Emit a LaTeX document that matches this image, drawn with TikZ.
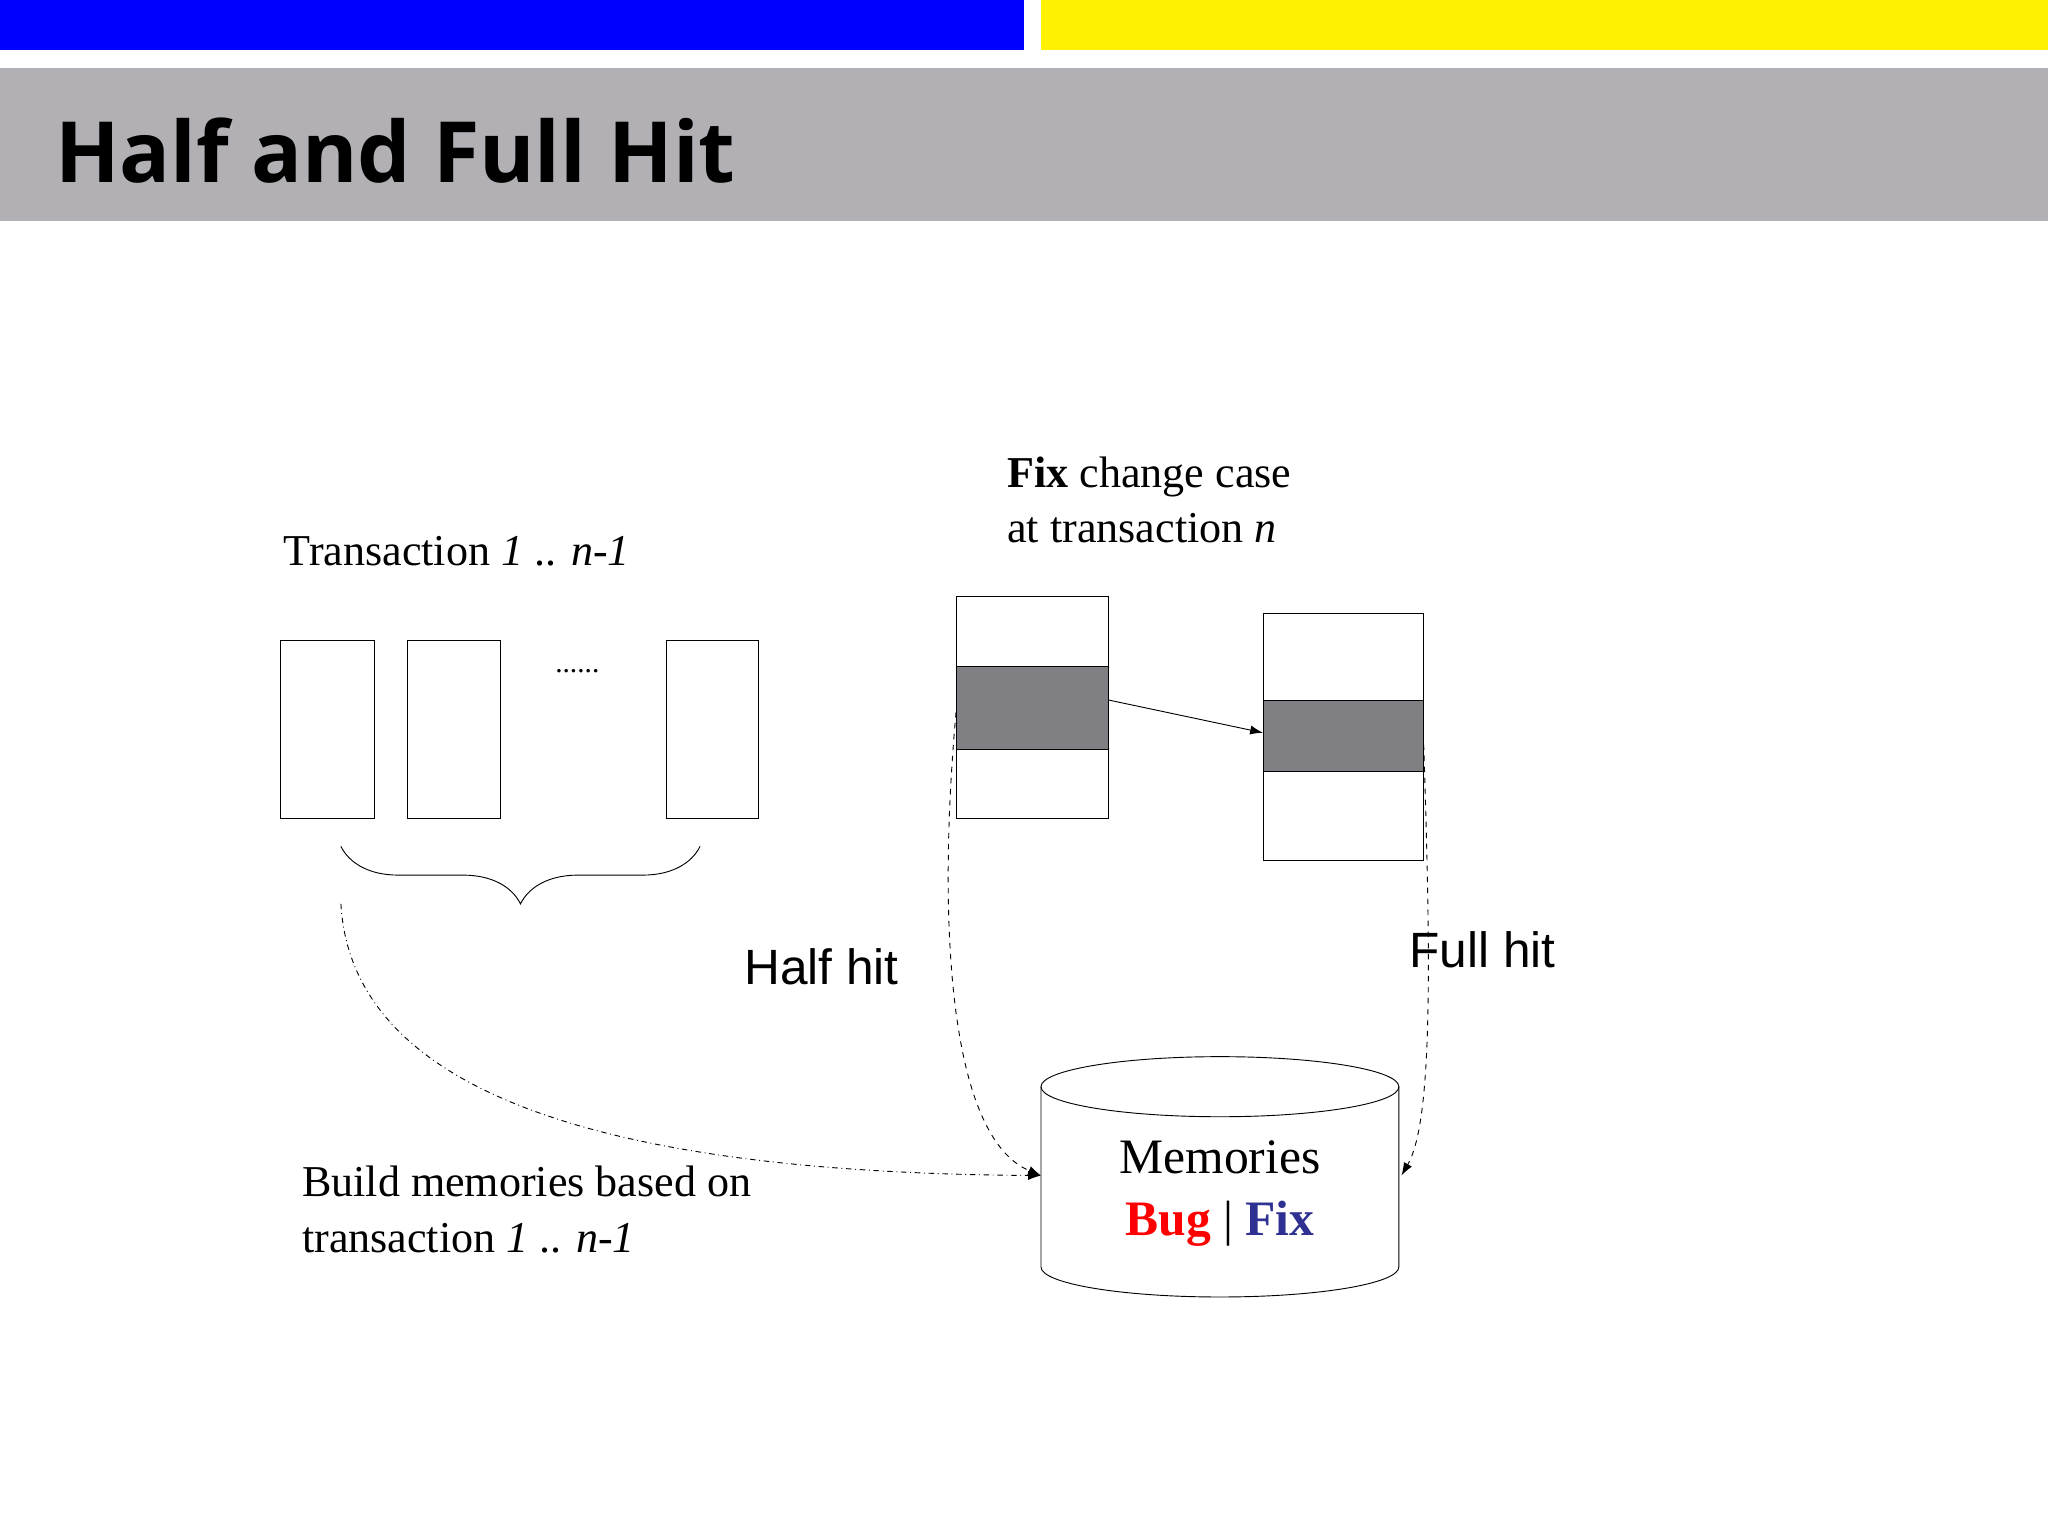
\documentclass[tikz,border=0pt]{standalone}
\usepackage{fontspec}
\setmainfont{Liberation Serif}
\newfontfamily\arialf{Liberation Sans}
\newfontfamily\titlef{Open Sans}
\usetikzlibrary{decorations.pathreplacing,arrows.meta,shapes.geometric}
\definecolor{blk}{RGB}{128,127,131}
\definecolor{band}{RGB}{178,176,180}
\definecolor{fixblue}{RGB}{46,49,146}
\begin{document}
\begin{tikzpicture}[x=0.25mm,y=-0.25mm,
  lbl/.style={font=\fontsize{24}{30}\selectfont,align=left,anchor=west,inner sep=0},
  hit/.style={font=\arialf\fontsize{27}{30}\selectfont,inner sep=0},
  conn/.style={line width=0.5pt,-{Latex[length=7pt,width=5pt]}}]
\useasboundingbox (0,0) rectangle (1568,1176);
\fill[blue] (0,0) rectangle (784,38);
\fill[yellow] (797,0) rectangle (1568,38);
\fill[band] (0,52) rectangle (1568,169);
\node[anchor=base west,inner sep=0,font=\titlef\bfseries\fontsize{46}{56}\selectfont] (title) at (42,140) {Half and Full Hit};
% transactions
\draw[line width=0.5pt] (215,490) rectangle (287,627);
\draw[line width=0.5pt] (312,490) rectangle (383,627);
\draw[line width=0.5pt] (510,490) rectangle (581,627);
\node[font=\fontsize{16}{18}\selectfont] (dots) at (442,514) {......};
\node[lbl] (trans) at (217,422) {Transaction \textit{1} .. \textit{n-1}};
\draw[line width=0.5pt,decorate,decoration={brace,mirror,amplitude=11mm}] (261,648) -- (536,648);
\coordinate (bt) at (261,692);
% fix blocks
\draw[line width=0.5pt] (732,457) rectangle (849,627);
\draw[line width=0.5pt,fill=blk] (732,510) rectangle (849,574);
\draw[line width=0.5pt] (967,470) rectangle (1090,659);
\draw[line width=0.5pt,fill=blk] (967,536) rectangle (1090,591);
\coordinate (a1) at (849,536);
\coordinate (a2) at (967,561);
\draw[conn] (a1) -- (a2);
\node[lbl] (fixlbl) at (771,383) {\textbf{Fix} change case\\at transaction \textit{n}};
% cylinder
\draw[line width=0.5pt,fill=white] (797,832) -- (797,970) arc[start angle=180,end angle=0,x radius=137,y radius=23] -- (1071,832);
\draw[line width=0.5pt] (934,832) ellipse[x radius=137,y radius=23];
\node[font=\fontsize{27}{34}\selectfont,align=center] (mem) at (934,914) {Memories\\\textbf{\textcolor{red}{Bug}} | \textbf{\textcolor{fixblue}{Fix}}};
\coordinate (mL) at (797,900);
\coordinate (mR) at (1073,900);
\coordinate (h1) at (732,545);
\coordinate (f1) at (1090,570);
\draw[conn,dashed] (h1) .. controls (718,700) and (725,870) .. (mL);
\draw[conn,dashed] (f1) .. controls (1096,750) and (1096,860) .. (mR);
\draw[conn,dash dot] (bt) .. controls (270,850) and (500,898) .. (mL);
\node[hit] (half) at (629,740) {Half hit};
\node[hit] (full) at (1135,727) {Full hit};
\node[lbl] (build) at (231,926) {Build memories based on\\transaction \textit{1} .. \textit{n-1}};
\end{tikzpicture}
\end{document}
